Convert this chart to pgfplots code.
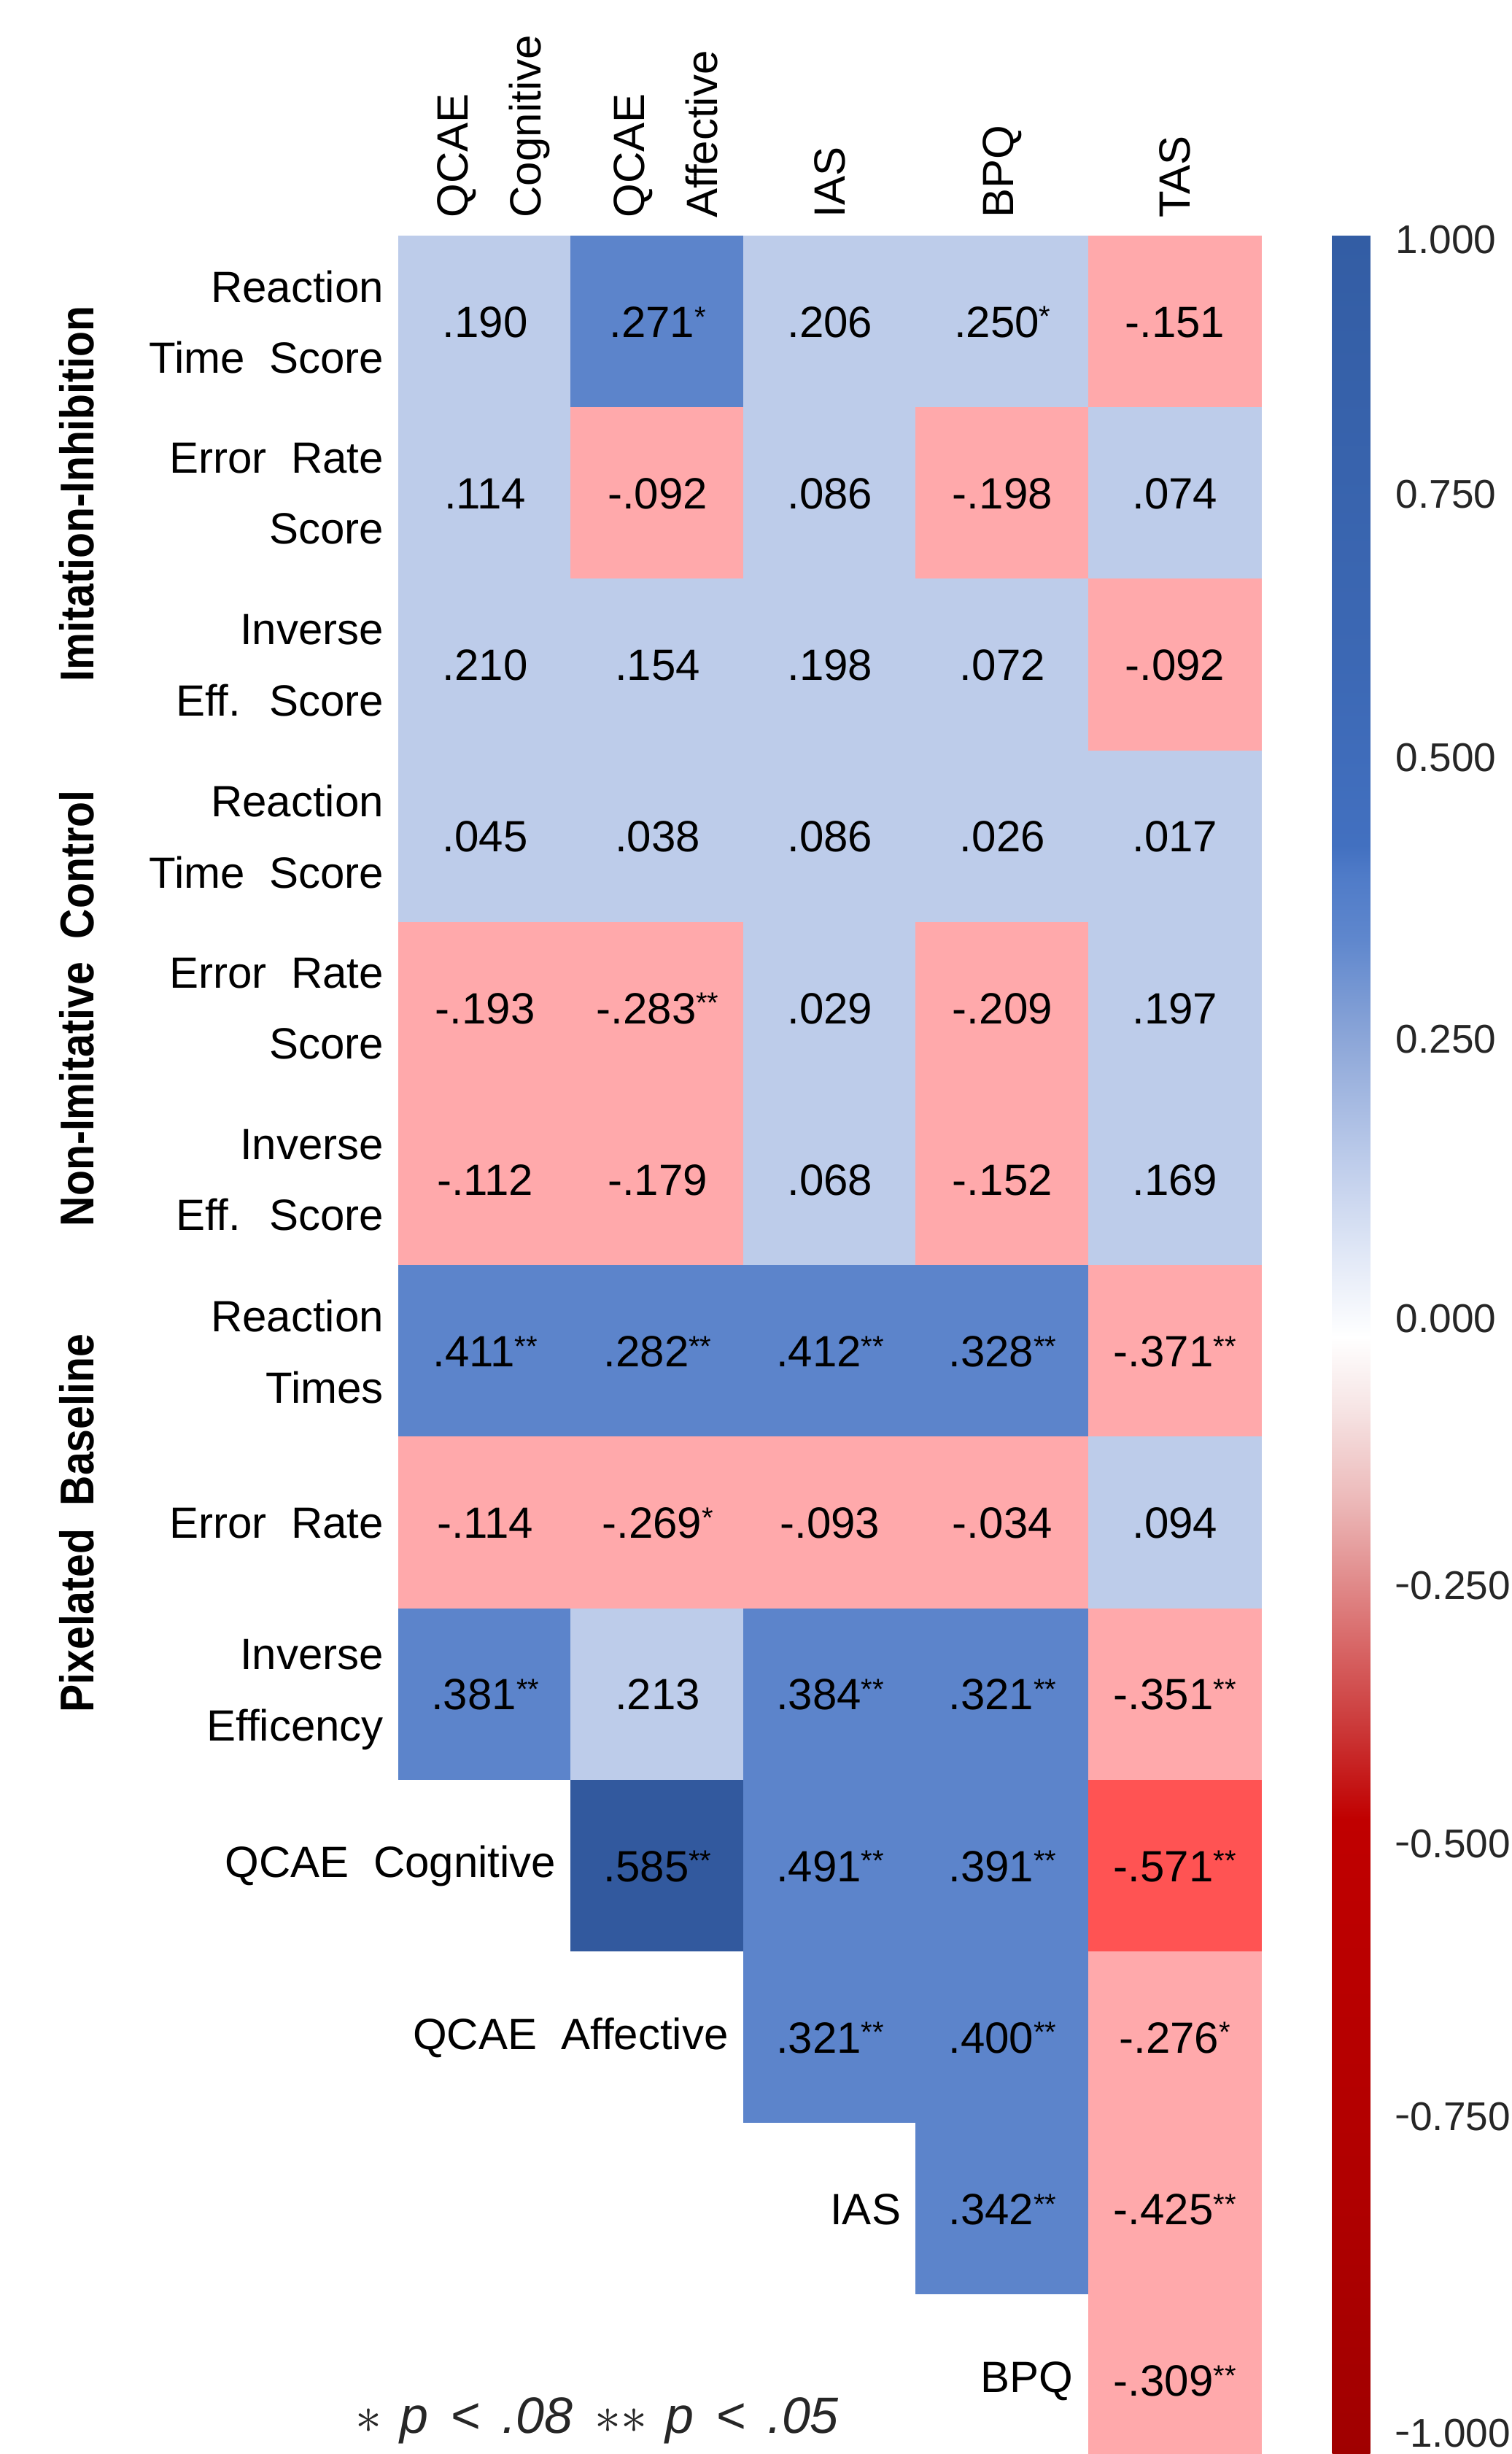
\documentclass[border=0pt]{standalone}
\usepackage{fontspec}
\setmainfont{Liberation Sans}
\usepackage{pgfplots}
\pgfplotsset{compat=1.18}
\usepackage{pgfplotstable}
\usetikzlibrary{calc}
\newlength\px \setlength\px{0.2pt}
\newcommand\sigone{\raisebox{2.9pt}{\fontsize{8}{8}\selectfont *}}
\newcommand\sigtwo{\raisebox{2.9pt}{\fontsize{8}{8}\selectfont **}}
\newcommand\mn{\scalebox{0.6}[1]{−}}
\definecolor{lbl}{RGB}{38,38,38}
\tikzset{
  rowlab/.style={anchor=east, xshift=-0.7pt, align=right, font=\fontsize{12}{19.5}\selectfont},
  grplab/.style={rotate=90, anchor=center},
  collab/.style={rotate=90, anchor=west, align=left, font=\fontsize{12}{20}\selectfont},
}
\pgfplotsset{
  colormap={cells}{rgb255=(255,169,171) rgb255=(189,204,234) rgb255=(92,132,203) rgb255=(50,89,158) rgb255=(255,83,83) rgb255=(255,255,255)},
  colormap={cb}{rgb255(0pt)=(160,0,0) rgb255(237pt)=(176,0,0) rgb255(572pt)=(192,0,0) rgb255(660pt)=(204,60,60) rgb255(731pt)=(216,104,104) rgb255(801pt)=(227,148,148) rgb255(858pt)=(236,184,184) rgb255(942pt)=(246,228,228) rgb255(1007pt)=(255,255,255) rgb255(1083pt)=(224,231,246) rgb255(1168pt)=(188,203,234) rgb255(1275pt)=(140,166,216) rgb255(1365pt)=(95,135,205) rgb255(1423pt)=(79,123,200) rgb255(1450pt)=(66,112,192) rgb255(1619pt)=(60,104,180) rgb255(2000pt)=(51,93,164)},
}
% category: 0 pink, 1 light blue, 2 blue, 3 dark blue, 4 red, 5 empty
\pgfplotstableread{
x y c
0 0 1
1 0 2
2 0 1
3 0 1
4 0 0
0 1 1
1 1 0
2 1 1
3 1 0
4 1 1
0 2 1
1 2 1
2 2 1
3 2 1
4 2 0
0 3 1
1 3 1
2 3 1
3 3 1
4 3 1
0 4 0
1 4 0
2 4 1
3 4 0
4 4 1
0 5 0
1 5 0
2 5 1
3 5 0
4 5 1
0 6 2
1 6 2
2 6 2
3 6 2
4 6 0
0 7 0
1 7 0
2 7 0
3 7 0
4 7 1
0 8 2
1 8 1
2 8 2
3 8 2
4 8 0
0 9 5
1 9 3
2 9 2
3 9 2
4 9 4
0 10 5
1 10 5
2 10 2
3 10 2
4 10 0
0 11 5
1 11 5
2 11 5
3 11 2
4 11 0
0 12 5
1 12 5
2 12 5
3 12 5
4 12 0
}\gridtab
\pgfplotstableread[col sep=comma]{
x,y,r,label
0,0,0.190,.190
1,0,0.271,.271\sigone
2,0,0.206,.206
3,0,0.250,.250\sigone
4,0,-0.151,-.151
0,1,0.114,.114
1,1,-0.092,-.092
2,1,0.086,.086
3,1,-0.198,-.198
4,1,0.074,.074
0,2,0.210,.210
1,2,0.154,.154
2,2,0.198,.198
3,2,0.072,.072
4,2,-0.092,-.092
0,3,0.045,.045
1,3,0.038,.038
2,3,0.086,.086
3,3,0.026,.026
4,3,0.017,.017
0,4,-0.193,-.193
1,4,-0.283,-.283\sigtwo
2,4,0.029,.029
3,4,-0.209,-.209
4,4,0.197,.197
0,5,-0.112,-.112
1,5,-0.179,-.179
2,5,0.068,.068
3,5,-0.152,-.152
4,5,0.169,.169
0,6,0.411,.411\sigtwo
1,6,0.282,.282\sigtwo
2,6,0.412,.412\sigtwo
3,6,0.328,.328\sigtwo
4,6,-0.371,-.371\sigtwo
0,7,-0.114,-.114
1,7,-0.269,-.269\sigone
2,7,-0.093,-.093
3,7,-0.034,-.034
4,7,0.094,.094
0,8,0.381,.381\sigtwo
1,8,0.213,.213
2,8,0.384,.384\sigtwo
3,8,0.321,.321\sigtwo
4,8,-0.351,-.351\sigtwo
1,9,0.585,.585\sigtwo
2,9,0.491,.491\sigtwo
3,9,0.391,.391\sigtwo
4,9,-0.571,-.571\sigtwo
2,10,0.321,.321\sigtwo
3,10,0.400,.400\sigtwo
4,10,-0.276,-.276\sigone
3,11,0.342,.342\sigtwo
4,11,-0.425,-.425\sigtwo
4,12,-0.309,-.309\sigtwo
}\labtab
\begin{document}
\begin{tikzpicture}
\begin{axis}[
  at={(547\px,-324\px)}, anchor=north west,
  scale only axis, width=1182\px, height=3057.6\px,
  xmin=-0.5, xmax=4.5, ymin=-0.5, ymax=12.5, y dir=reverse,
  hide axis, clip=false,
  colormap name=cells, colormap access=direct,
  every node near coord/.append style={anchor=center, font=\fontsize{12}{12}\selectfont, text=black, inner sep=0pt},
]
\addplot[matrix plot*, mesh/cols=5, point meta=explicit] table[x=x, y=y, meta=c] \gridtab;
\addplot[draw=none, mark=none, nodes near coords, point meta=explicit symbolic] table[x=x, y=y, meta=label] \labtab;
% row labels
\node[rowlab] at (axis cs:-0.5,0) {Reaction\\Time~ Score};
\node[rowlab] at (axis cs:-0.5,1) {Error~ Rate\\Score};
\node[rowlab] at (axis cs:-0.5,2) {Inverse\\Eff.~ Score};
\node[rowlab] at (axis cs:-0.5,3) {Reaction\\Time~ Score};
\node[rowlab] at (axis cs:-0.5,4) {Error~ Rate\\Score};
\node[rowlab] at (axis cs:-0.5,5) {Inverse\\Eff.~ Score};
\node[rowlab] at (axis cs:-0.5,6) {Reaction\\Times};
\node[rowlab] at (axis cs:-0.5,7) {Error~ Rate};
\node[rowlab] at (axis cs:-0.5,8) {Inverse\\Efficency};
\node[rowlab] at (axis cs:0.5,9) {QCAE~ Cognitive};
\node[rowlab] at (axis cs:1.5,10) {QCAE~ Affective};
\node[rowlab] at (axis cs:2.5,11) {IAS};
\node[rowlab] at (axis cs:3.5,12) {BPQ};
% group labels
\node[grplab] at ($(axis cs:-0.5,1)+(-88.4pt,0pt)$) {\scalebox{0.88}[1]{\bfseries\fontsize{13}{13}\selectfont Imitation-Inhibition}};
\node[grplab] at ($(axis cs:-0.5,4)+(-88.4pt,0pt)$) {\scalebox{0.88}[1]{\bfseries\fontsize{13}{13}\selectfont Non-Imitative~ Control}};
\node[grplab] at ($(axis cs:-0.5,7)+(-88.4pt,0pt)$) {\scalebox{0.88}[1]{\bfseries\fontsize{13}{13}\selectfont Pixelated~ Baseline}};
% column labels
\node[collab] at ($(axis cs:0,-0.5)+(2.3pt,1.6pt)$) {QCAE\\Cognitive};
\node[collab] at ($(axis cs:1,-0.5)+(2.3pt,1.6pt)$) {QCAE\\Affective};
\node[collab] at ($(axis cs:2,-0.5)+(0pt,1.6pt)$) {IAS};
\node[collab] at ($(axis cs:3,-0.5)+(0pt,1.6pt)$) {BPQ};
\node[collab] at ($(axis cs:4,-0.5)+(0pt,1.6pt)$) {TAS};
\end{axis}
% colorbar
\begin{axis}[
  at={(1783\px,-322\px)}, anchor=north west,
  scale only axis, width=1\px, height=3042\px,
  xmin=0, xmax=1, ymin=0, ymax=1,
  xtick=\empty, ytick=\empty, axis line style={draw=none},
  colormap name=cb, point meta min=-1, point meta max=1,
  colorbar,
  colorbar style={
    at={(parent axis.north east)}, anchor=north west,
    width=52\px, height=3042\px, scale only axis,
    axis line style={draw=none},
    major tick length=0pt,
    ytick={0.996,0.766,0.529,0.275,0.023,-0.217,-0.450,-0.696,-0.981},
    yticklabels={1.000,0.750,0.500,0.250,0.000,\mn0.250,\mn0.500,\mn0.750,\mn1.000},
    yticklabel style={font=\fontsize{11}{11}\selectfont, text=lbl, anchor=west, xshift=3.5pt},
  },
]
\end{axis}
\node[anchor=base west, text=lbl, font=\itshape\fontsize{14}{14}\selectfont] at (470\px,-3335\px)
  {$\ast$\hspace{5pt}p\hspace{6pt}<\hspace{6pt}.08\hspace{6pt}$\ast\ast$\hspace{5pt}p\hspace{6pt}<\hspace{6pt}.05};
\pgfresetboundingbox
\path (0,0) rectangle (2072\px,-3364\px);
\end{tikzpicture}
\end{document}
